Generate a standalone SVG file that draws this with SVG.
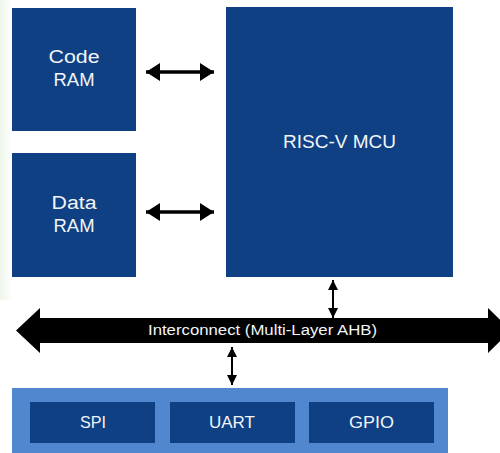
<svg xmlns="http://www.w3.org/2000/svg" width="500" height="453" viewBox="0 0 500 453">
<style>
.blk{fill:#0e4083}
.lbl{font-family:"Liberation Sans","Open Sans",sans-serif;fill:#f2f5fa;text-anchor:middle;dominant-baseline:central}
.big{font-size:18px}
.per{font-size:17px}
</style>
<defs>
<linearGradient id="bg" x1="0" x2="1" y1="0" y2="0">
<stop offset="0" stop-color="#eef5ea"/>
<stop offset="1" stop-color="#ffffff"/>
</linearGradient>
</defs>
<rect width="500" height="453" fill="#fff"/>
<rect x="0" y="0" width="12" height="300" fill="url(#bg)"/>
<g id="code-ram">
<rect class="blk" x="12" y="8" width="124" height="123"/>
<text class="lbl big" x="74" y="57" textLength="51" lengthAdjust="spacingAndGlyphs">Code</text>
<text class="lbl big" x="74" y="80" textLength="41" lengthAdjust="spacingAndGlyphs">RAM</text>
</g>
<g id="data-ram">
<rect class="blk" x="12" y="153" width="124" height="124"/>
<text class="lbl big" x="74" y="203" textLength="45" lengthAdjust="spacingAndGlyphs">Data</text>
<text class="lbl big" x="74" y="226" textLength="41" lengthAdjust="spacingAndGlyphs">RAM</text>
</g>
<g id="mcu">
<rect class="blk" x="226" y="7" width="227" height="270"/>
<text class="lbl big" x="339.5" y="142" textLength="113" lengthAdjust="spacingAndGlyphs">RISC-V MCU</text>
</g>
<g id="peripherals">
<rect x="12" y="388" width="436" height="65" fill="#5087cf"/>
<g id="spi"><rect class="blk" x="30" y="402" width="125" height="41"/><text class="lbl per" x="93" y="422" textLength="26" lengthAdjust="spacingAndGlyphs">SPI</text></g>
<g id="uart"><rect class="blk" x="170" y="402" width="125" height="41"/><text class="lbl per" x="232" y="422" textLength="46" lengthAdjust="spacingAndGlyphs">UART</text></g>
<g id="gpio"><rect class="blk" x="309" y="402" width="125" height="41"/><text class="lbl per" x="371.5" y="422" textLength="45" lengthAdjust="spacingAndGlyphs">GPIO</text></g>
</g>
<g id="bus">
<path d="M16,330.5 L40,308 L40,318 L488,318 L488,308 L511,330.5 L488,353 L488,343 L40,343 L40,353 Z" fill="#000"/>
<text class="lbl" x="262.5" y="330" font-size="14" textLength="229" lengthAdjust="spacingAndGlyphs">Interconnect (Multi-Layer AHB)</text>
</g>
<g id="connectors">
<path d="M146,72 L214,72" stroke="#000" stroke-width="3.5"/>
<path d="M146,72 L160,63 L160,81 Z M214,72 L200,63 L200,81 Z" fill="#000"/>
<path d="M146,212 L214,212" stroke="#000" stroke-width="3.5"/>
<path d="M146,212 L160,203 L160,221 Z M214,212 L200,203 L200,221 Z" fill="#000"/>
<path d="M333,280 L333,318" stroke="#000" stroke-width="2"/>
<path d="M333,280 L328,290 L338,290 Z M333,318 L328,308 L338,308 Z" fill="#000"/>
<path d="M232,347 L232,385" stroke="#000" stroke-width="2"/>
<path d="M232,347 L227,357 L237,357 Z M232,385 L227,375 L237,375 Z" fill="#000"/>
</g>
</svg>
